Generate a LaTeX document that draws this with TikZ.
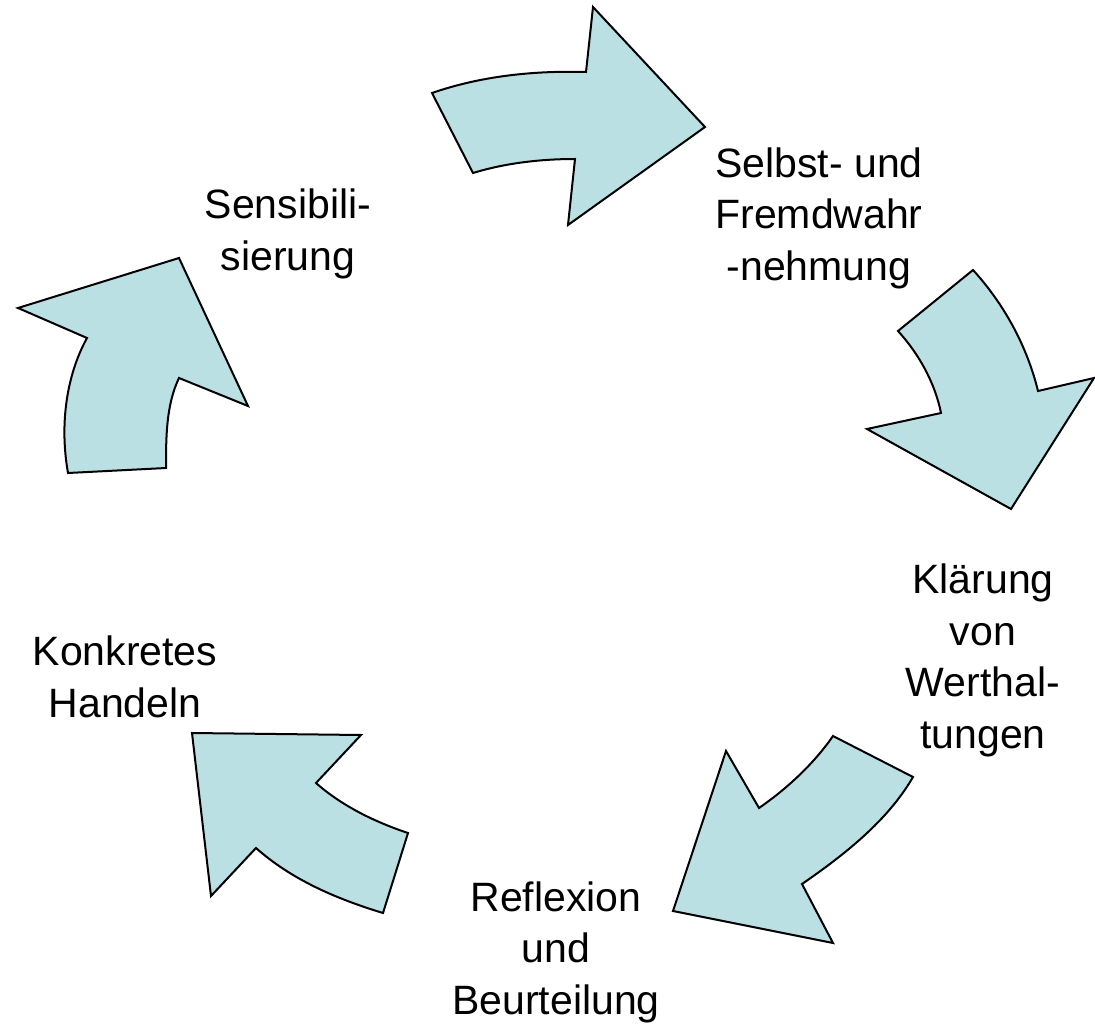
\documentclass[tikz,border=0pt]{standalone}
\usepackage{fontspec}
\setmainfont{Liberation Sans}
\definecolor{arrowfill}{RGB}{187,224,227}
\begin{document}
\begin{tikzpicture}[x=1pt,y=-1pt,
  cyclearrow/.style={draw=black, fill=arrowfill, line width=2pt, line join=miter},
  steplabel/.style={align=center, inner sep=0pt, anchor=base, font=\fontsize{41}{51.5}\selectfont}]
\useasboundingbox (0,0) rectangle (1095,1027);

% arrow 1 (top)
\coordinate (a1) at (432,93);  \coordinate (b1) at (473,173);
\coordinate (c1) at (575,159); \coordinate (d1) at (568,225);
\coordinate (e1) at (705,127); \coordinate (f1) at (593,7);
\coordinate (g1) at (586,72);
\draw[cyclearrow] (a1) -- (b1) .. controls (505.5,163) and (541,159) .. (c1)
  -- (d1) -- (e1) -- (f1) -- (g1) .. controls (534,70.5) and (481,76) .. (a1) -- cycle;

% arrow 2 (right)
\coordinate (a2) at (973,270);  \coordinate (b2) at (898,331);
\coordinate (c2) at (941,413);  \coordinate (d2) at (867,429);
\coordinate (e2) at (1011,509); \coordinate (f2) at (1094,378);
\coordinate (g2) at (1038,391);
\draw[cyclearrow] (a2) -- (b2) .. controls (919,354) and (935,383) .. (c2)
  -- (d2) -- (e2) -- (f2) -- (g2) .. controls (1027,346) and (1004,304) .. (a2) -- cycle;

% arrow 3 (bottom right)
\coordinate (a3) at (913,777); \coordinate (b3) at (833,736);
\coordinate (c3) at (759,808); \coordinate (d3) at (726,751);
\coordinate (e3) at (673,911); \coordinate (f3) at (833,943);
\coordinate (g3) at (802,884);
\draw[cyclearrow] (a3) -- (b3) .. controls (813.6,764) and (787,788.6) .. (c3)
  -- (d3) -- (e3) -- (f3) -- (g3) .. controls (844,855) and (887.5,821) .. (a3) -- cycle;

% arrow 4 (bottom left)
\coordinate (a4) at (383,913); \coordinate (b4) at (408,833);
\coordinate (c4) at (316,783); \coordinate (d4) at (361,735);
\coordinate (e4) at (192,733); \coordinate (f4) at (211,896);
\coordinate (g4) at (256,848);
\draw[cyclearrow] (a4) -- (b4) .. controls (375,822) and (342,806) .. (c4)
  -- (d4) -- (e4) -- (f4) -- (g4) .. controls (292,880) and (337,899) .. (a4) -- cycle;

% arrow 5 (left)
\coordinate (a5) at (68,473);  \coordinate (b5) at (166,468);
\coordinate (c5) at (179,378); \coordinate (d5) at (248,406);
\coordinate (e5) at (179,258); \coordinate (f5) at (18,308);
\coordinate (g5) at (87,338);
\draw[cyclearrow] (a5) -- (b5) .. controls (166,438) and (166,405) .. (c5)
  -- (d5) -- (e5) -- (f5) -- (g5) .. controls (65,378) and (60,428) .. (a5) -- cycle;

% labels (anchor = baseline of last line)
\node[steplabel] (sens) at (288,270) {Sensibili-\\sierung};
\node[steplabel] (selbst) at (819,280) {Selbst- und\\Fremdwahr\\-nehmung};
\node[steplabel] (klaer) at (983,748) {Klärung\\von\\Werthal-\\tungen};
\node[steplabel] (refl) at (556,1014) {Reflexion\\und\\Beurteilung};
\node[steplabel] (konk) at (125,717) {Konkretes\\Handeln};
\end{tikzpicture}
\end{document}
